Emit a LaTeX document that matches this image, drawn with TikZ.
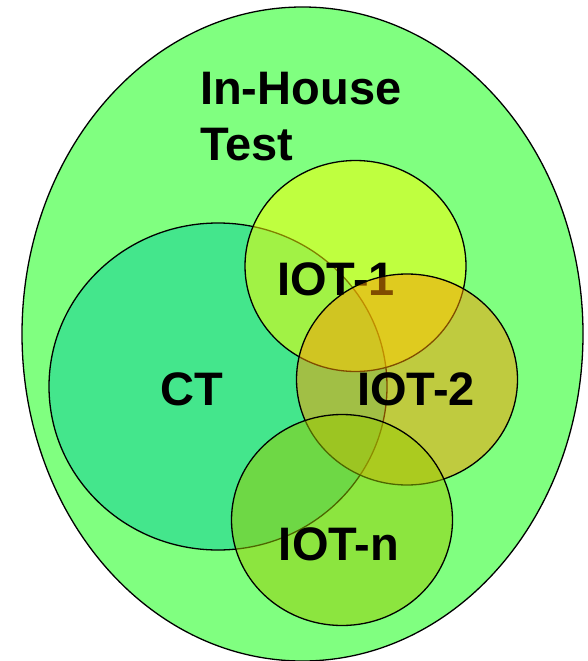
\documentclass[tikz,border=0pt]{standalone}
\usepackage{fontspec}
\setmainfont{Liberation Sans}
\usetikzlibrary{shapes.geometric}
\definecolor{housegreen}{HTML}{80FF80}
\definecolor{ctgreen}{HTML}{44E68C}
\definecolor{iotyellow}{HTML}{FFFF00}
\definecolor{iotorange}{HTML}{FF9900}
\definecolor{iotolive}{HTML}{99CC00}
\begin{document}
\begin{tikzpicture}[x=1pt,y=-1pt,
  venn/.style={ellipse,draw=black,line width=1.3pt,inner sep=0pt,fill opacity=0.5,draw opacity=1,
    minimum width=221pt,minimum height=211pt},
  lbl/.style={font=\fontsize{47}{56}\selectfont\bfseries,anchor=base,inner sep=0pt}]
\useasboundingbox (0,0) rectangle (587,661);
\node[ellipse,draw=black,line width=1.3pt,fill=housegreen,inner sep=0pt,
  minimum width=561pt,minimum height=654pt] (house) at (302.5,334) {};
\node[lbl,anchor=base west,align=left] (houselbl) at (200,160) {In-House\\Test};
\node[venn,fill=ctgreen,fill opacity=1,minimum width=338pt,minimum height=327pt] (ct) at (218,386.5) {};
\node[lbl] (ctlbl) at (191.5,405) {CT};
\node[venn,fill=iotyellow] (iot1) at (355.5,266) {};
\node[lbl] (iot1lbl) at (336,295) {IOT-1};
\node[venn,fill=iotorange] (iot2) at (407,379.5) {};
\node[lbl] (iot2lbl) at (416,405) {IOT-2};
\node[venn,fill=iotolive] (iotn) at (342,520) {};
\node[lbl] (iotnlbl) at (339,560) {IOT-n};
\end{tikzpicture}
\end{document}
